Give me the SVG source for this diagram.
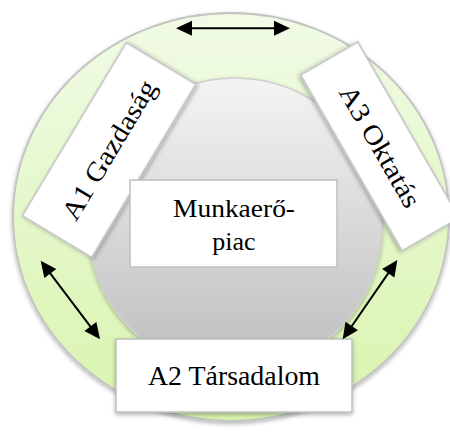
<svg xmlns="http://www.w3.org/2000/svg" width="450" height="432" viewBox="0 0 450 432">
  <defs>
    <linearGradient id="gOuter" x1="0" y1="0" x2="0" y2="1">
      <stop offset="0" stop-color="#f1fbe6"/>
      <stop offset="1" stop-color="#d8f4ad"/>
    </linearGradient>
    <linearGradient id="gInner" x1="0" y1="0" x2="0" y2="1">
      <stop offset="0" stop-color="#f4f4f4"/>
      <stop offset="1" stop-color="#bdbdbd"/>
    </linearGradient>
    <filter id="shadow" x="-10%" y="-10%" width="120%" height="125%">
      <feDropShadow dx="0" dy="2" stdDeviation="2" flood-color="#000" flood-opacity="0.3"/>
    </filter>
    <marker id="head" markerUnits="userSpaceOnUse" markerWidth="16" markerHeight="15" refX="8" refY="7.5" orient="auto-start-reverse" overflow="visible">
      <path d="M0,0 L16,7.5 L0,15 z" fill="#000"/>
    </marker>
  </defs>
  <style>
    .box { fill: #ffffff; stroke: #bfbfbf; stroke-width: 1.5; }
    .lbl { font-family: "Liberation Serif", "Times New Roman", serif; font-size: 27px; fill: #000; text-anchor: middle; }
    .conn { stroke: #000; stroke-width: 2; fill: none; marker-start: url(#head); marker-end: url(#head); }
  </style>

  <g id="outer-ring">
    <ellipse cx="231" cy="217" rx="218" ry="204" fill="url(#gOuter)" stroke="#c4c4c4" stroke-width="2" filter="url(#shadow)"/>
  </g>
  <g id="inner-circle">
    <circle cx="235" cy="225" r="147" fill="url(#gInner)" stroke="#cfcfcf" stroke-width="1.5" filter="url(#shadow)"/>
  </g>

  <g id="a1" transform="translate(109,150) rotate(-59)">
    <rect class="box" x="-101" y="-40.5" width="202" height="81" filter="url(#shadow)"/>
    <text class="lbl" x="0" y="9" textLength="158" lengthAdjust="spacingAndGlyphs">A1 Gazdaság</text>
  </g>

  <g id="a3" transform="translate(380,146.4) rotate(60)">
    <rect class="box" x="-101.5" y="-33" width="203" height="66" filter="url(#shadow)"/>
    <text class="lbl" x="0" y="9" textLength="136" lengthAdjust="spacingAndGlyphs">A3 Oktatás</text>
  </g>

  <g id="munkaero">
    <rect class="box" x="130" y="180" width="207" height="87"/>
    <text class="lbl" style="font-size:26px" x="234" y="217" textLength="122" lengthAdjust="spacingAndGlyphs">Munkaerő-</text>
    <text class="lbl" style="font-size:26px" x="234" y="250">piac</text>
  </g>

  <g id="a2">
    <rect class="box" x="116" y="339" width="236" height="73" filter="url(#shadow)"/>
    <text class="lbl" x="234" y="385" textLength="172" lengthAdjust="spacingAndGlyphs">A2 Társadalom</text>
  </g>

  <g id="connectors">
    <line class="conn" x1="184" y1="28.3" x2="282" y2="28.3"/>
    <line class="conn" x1="45.5" y1="267.1" x2="95.2" y2="332.9"/>
    <line class="conn" x1="392.8" y1="266.6" x2="347.2" y2="332.7"/>
  </g>
</svg>
